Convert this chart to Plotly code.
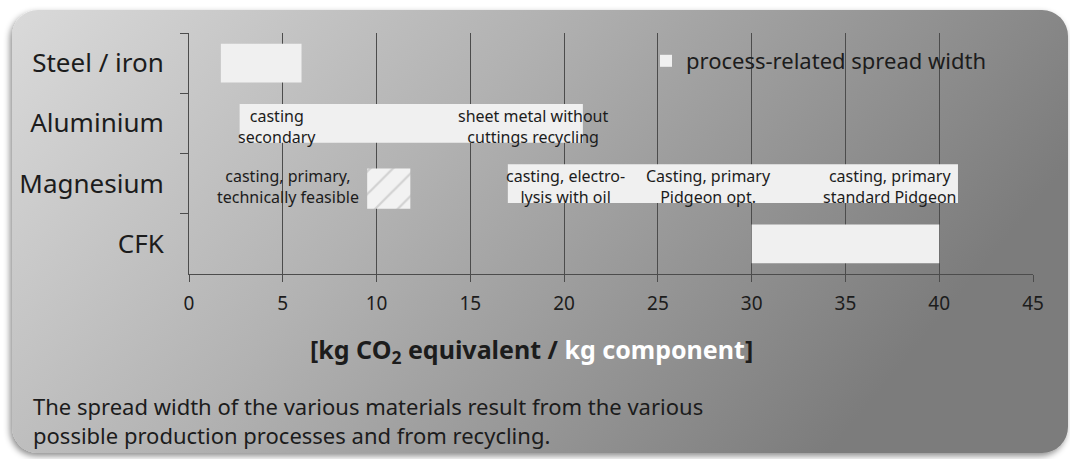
import base64
import plotly.graph_objects as go

# ---------------- data ----------------
materials = ["Steel / iron", "Aluminium", "Magnesium", "CFK"]
spread_min = [1.7, 2.7, 17.0, 30.0]
spread_max = [6.0, 21.0, 41.0, 40.0]

feasible_cat = ["Magnesium"]
feasible_min = [9.5]
feasible_max = [11.8]

label_cat = ["Aluminium", "Aluminium", "Magnesium", "Magnesium", "Magnesium", "Magnesium"]
label_x = [4.7, 18.35, 5.3, 20.1, 27.7, 37.4]
label_text = [
    "casting<br>secondary",
    "sheet metal without<br>cuttings recycling",
    "casting, primary,<br>technically feasible",
    "casting, electro-<br>lysis with oil",
    "Casting, primary<br>Pidgeon opt.",
    "casting, primary<br>standard Pidgeon",
]

x_ticks = [0, 5, 10, 15, 20, 25, 30, 35, 40, 45]
legend_name = "process-related spread width"
axis_title = "<b>[kg CO<sub>2</sub> equivalent / <span style='color:white'>kg component</span>]</b>"
footnote = ("The spread width of the various materials result from the various<br>"
            "possible production processes and from recycling.")

# ---------------- layout geometry ----------------
W, H = 1070, 459
ML, MR, MT, MB = 189, 37, 33, 185
PW, PH = W - ML - MR, H - MT - MB

FONT = "Noto Sans"
TXT = "#1c1c1c"
BAR = "#f0f0f0"
GRID = "#4c4c4c"

svg = f'''<svg xmlns="http://www.w3.org/2000/svg" width="{W}" height="{H}" viewBox="0 0 {W} {H}">
<defs>
<linearGradient id="g" x1="0" y1="0" x2="1" y2="0.35">
<stop offset="0" stop-color="#dadada"/>
<stop offset="0.45" stop-color="#b2b2b2"/>
<stop offset="1" stop-color="#7c7c7c"/>
</linearGradient>
<filter id="s" x="-5%" y="-5%" width="110%" height="115%">
<feDropShadow dx="-2" dy="3" stdDeviation="3" flood-color="#000" flood-opacity="0.45"/>
</filter>
</defs>
<rect x="12" y="10" width="1056" height="443" rx="26" ry="26" fill="url(#g)" filter="url(#s)"/>
</svg>'''
svg_uri = "data:image/svg+xml;base64," + base64.b64encode(svg.encode()).decode()

fig = go.Figure()

fig.add_trace(go.Bar(
    y=materials,
    x=[b - a for a, b in zip(spread_min, spread_max)],
    base=spread_min,
    orientation="h",
    width=0.64,
    marker=dict(color=BAR, line=dict(width=0)),
    name=legend_name,
    hoverinfo="skip",
))

fig.add_trace(go.Bar(
    y=feasible_cat,
    x=[b - a for a, b in zip(feasible_min, feasible_max)],
    base=feasible_min,
    orientation="h",
    width=0.667,
    offset=-0.25,
    marker=dict(color=BAR, line=dict(width=0),
                pattern=dict(shape="/", fgcolor="#b0b0b0", bgcolor="#f2f2f2",
                             size=16, solidity=0.14)),
    showlegend=False,
    hoverinfo="skip",
))

annotations = []
for c, xv, t in zip(label_cat, label_x, label_text):
    annotations.append(dict(
        x=xv, y=c, xref="x", yref="y", text=t, showarrow=False,
        font=dict(family=FONT, size=16, color=TXT), align="center", yshift=-3,
    ))

annotations.append(dict(
    x=(531 - ML) / PW, y=1 - (350 - MT) / PH, xref="paper", yref="paper",
    text=axis_title, showarrow=False, xanchor="center", yanchor="middle",
    font=dict(family=FONT, size=25, color=TXT),
))
annotations.append(dict(
    x=(31 - ML) / PW, y=1 - (420 - MT) / PH, xref="paper", yref="paper",
    text=footnote, showarrow=False, xanchor="left", yanchor="middle", align="left",
    font=dict(family=FONT, size=22, color=TXT),
))

fig.update_layout(
    width=W, height=H,
    margin=dict(l=ML, r=MR, t=MT, b=MB, pad=0),
    paper_bgcolor="white",
    plot_bgcolor="rgba(0,0,0,0)",
    barmode="overlay",
    font=dict(family=FONT, color=TXT),
    showlegend=True,
    legend=dict(
        x=(646 - ML) / PW, y=1 - (61 - MT) / PH, xanchor="left", yanchor="middle",
        bgcolor="rgba(0,0,0,0)", borderwidth=0,
        font=dict(family=FONT, size=22, color=TXT),
    ),
    images=[dict(
        source=svg_uri, xref="paper", yref="paper",
        x=-ML / PW, y=1 + MT / PH, sizex=W / PW, sizey=H / PH,
        xanchor="left", yanchor="top", sizing="stretch", layer="below",
    )],
    annotations=annotations,
    xaxis=dict(
        range=[0, 45], tickvals=x_ticks, ticktext=[str(v) for v in x_ticks],
        showgrid=True, gridcolor=GRID, gridwidth=1, zeroline=False,
        showline=True, linecolor=GRID, linewidth=1,
        ticks="outside", ticklen=7, tickcolor=GRID,
        ticklabelstandoff=5,
        tickfont=dict(family=FONT, size=19, color=TXT),
        fixedrange=True,
    ),
    yaxis=dict(
        type="category", categoryorder="array", categoryarray=materials,
        range=[3.5, -0.5],
        showgrid=False, zeroline=False,
        showline=True, linecolor=GRID, linewidth=1,
        ticks="outside", ticklen=8, tickcolor=GRID, tickson="boundaries",
        ticklabelstandoff=19,
        tickfont=dict(family=FONT, size=26, color=TXT),
        fixedrange=True,
    ),
)

fig.write_html(
    "out.html",
    config={"displayModeBar": False},
    post_script="document.body.style.margin='0';document.body.style.overflow='hidden';",
)
